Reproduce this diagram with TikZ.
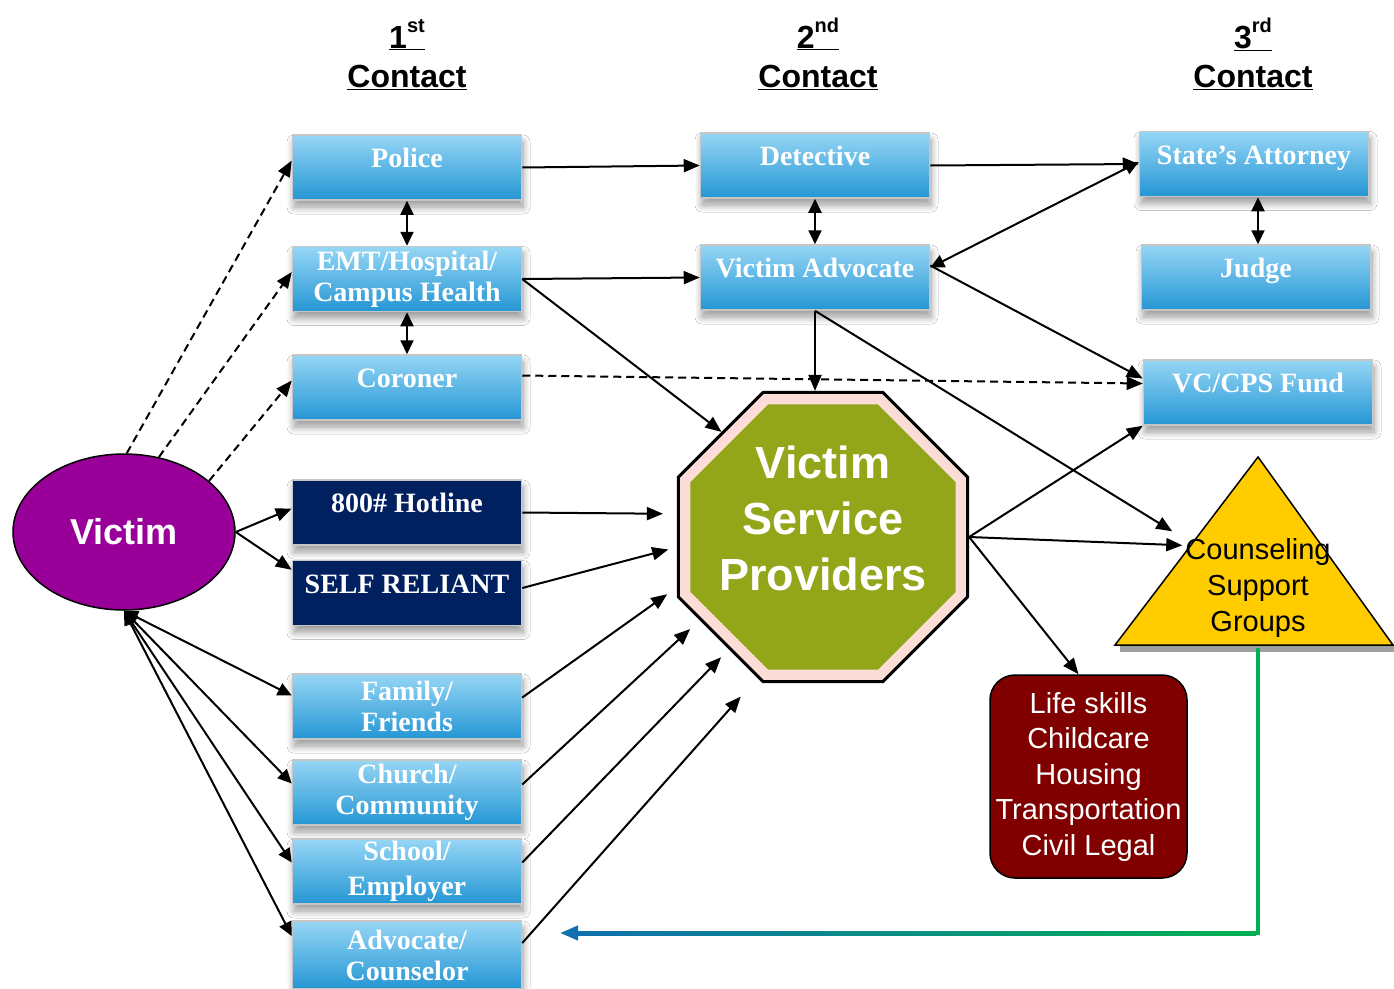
\documentclass[tikz,border=0pt]{standalone}
\usepackage{fontspec}
\setmainfont{Liberation Sans}
\newfontfamily\serifb{Liberation Serif}
\usetikzlibrary{shapes.geometric,arrows.meta,shadows.blur}

\definecolor{boxtop}{RGB}{150,214,245}
\definecolor{boxbot}{RGB}{36,150,212}
\definecolor{navy}{RGB}{0,32,96}
\definecolor{vpurple}{RGB}{153,0,153}
\definecolor{octgreen}{RGB}{147,166,26}
\definecolor{octpink}{RGB}{252,220,214}
\definecolor{lifered}{RGB}{128,0,0}
\definecolor{triyellow}{RGB}{255,204,0}
\definecolor{lgreen}{RGB}{0,176,80}
\definecolor{lblue}{RGB}{16,112,176}

\begin{document}
\begin{tikzpicture}[x=1pt,y=-1pt,
  bluebox/.style={rectangle, minimum width=229pt, minimum height=65pt, inner sep=0pt,
    top color=boxtop, bottom color=boxbot, draw=gray!45, line width=1.5pt,
    blur shadow={shadow xshift=1.5pt, shadow yshift=-7pt, shadow blur radius=7pt, shadow blur steps=10, shadow opacity=40},
    text=white, font=\serifb\bfseries\fontsize{28}{31}\selectfont, align=center},
  navybox/.style={bluebox, top color=navy, bottom color=navy},
  oneline/.style={text height=10pt, text depth=10pt},
  heading/.style={font=\bfseries\fontsize{32}{38}\selectfont, anchor=base, inner sep=0pt},
  arr/.style={line width=2pt, -{Triangle[length=16pt,width=13pt]}},
  darr/.style={line width=2pt, {Triangle[length=14pt,width=13pt]}-{Triangle[length=14pt,width=13pt]}},
  dsh/.style={arr, dash pattern=on 8pt off 5pt}
]
\fill[white] (0,0) rectangle (1394,988);
\useasboundingbox (0,0) rectangle (1394,988);

% headings
\node[heading] (h1n) at (407,48) {\underline{1\raisebox{16pt}{\fontsize{20}{20}\selectfont st}}};
\node[heading] (h1c) at (407,87) {\underline{Contact}};
\node[heading] (h2n) at (818,48) {\underline{2\raisebox{16pt}{\fontsize{20}{20}\selectfont nd}}};
\node[heading] (h2c) at (818,87) {\underline{Contact}};
\node[heading] (h3n) at (1253,48) {\underline{3\raisebox{16pt}{\fontsize{20}{20}\selectfont rd}}};
\node[heading] (h3c) at (1253,87) {\underline{Contact}};

% first contact column
\node[bluebox, oneline] (police) at (407,167.5) {Police};
\node[bluebox] (emt) at (407,279) {EMT/Hospital/\\Campus Health};
\node[bluebox, oneline] (coroner) at (407,387.5) {Coroner};
\node[navybox, oneline] (hotline) at (407,512.5) {800\# Hotline};
\node[navybox, oneline] (self) at (407,593) {SELF RELIANT};
\node[bluebox] (family) at (407,706.5) {Family/\\Friends};
\node[bluebox] (church) at (407,792.5) {Church/\\Community};
\node[bluebox, font=\serifb\bfseries\fontsize{28}{35}\selectfont] (school) at (407,871.5) {School/\\Employer};
\node[bluebox, minimum height=68pt] (advocate) at (407,955) {Advocate/\\Counselor};

% second / third contact
\node[bluebox, oneline] (det) at (815,165.5) {Detective};
\node[bluebox, oneline] (va) at (815,277.5) {Victim Advocate};
\node[bluebox, oneline] (sa) at (1254,164) {State’s Attorney};
\node[bluebox, oneline] (judge) at (1256,277.5) {Judge};
\node[bluebox, oneline] (vc) at (1258,392.5) {VC/CPS Fund};

% victim
\node[ellipse, minimum width=222pt, minimum height=156pt, inner sep=0pt, fill=vpurple,
  draw=black, line width=1.5pt, text=white, font=\bfseries\fontsize{36}{40}\selectfont] (victim) at (124,532) {Victim};

% octagon
\node[regular polygon, regular polygon sides=8, minimum size=313pt, inner sep=0pt,
  fill=octpink, draw=black, line width=3pt] (oct) at (823,537) {};
\node[regular polygon, regular polygon sides=8, minimum size=287pt, inner sep=0pt,
  fill=octgreen] (octin) at (823,537) {};
\node[font=\bfseries\fontsize{45}{56}\selectfont, text=white, align=center, inner sep=0pt] (vsp) at (823,518) {Victim\\Service\\Providers};

% triangle
\fill[gray!75] (1120,645) rectangle (1394,652);
\draw[fill=triyellow, line width=1.5pt, line join=miter] (1258,457) -- (1393,645) -- (1115,645) -- cycle;
\node[font=\fontsize{29}{36}\selectfont, align=center, inner sep=1pt] (csg) at (1258,588) {Counseling\\Support\\Groups};
\coordinate (tribase) at (1258,648);

% life skills
\node[rectangle, rounded corners=25pt, minimum width=197pt, minimum height=203pt, inner sep=0pt,
  fill=lifered, draw=black, line width=1.5pt, text=white, align=center,
  font=\fontsize{29}{35.5}\selectfont] (life) at (1088.5,776.5) {Life skills\\Childcare\\Housing\\Transportation\\Civil Legal};

% green/blue return connector
\coordinate (advend) at (560,933);
\draw[line width=4pt, lgreen, -{Triangle[length=18pt,width=14pt,color=lblue]}] (tribase) |- (advend);
\shade[left color=lblue, right color=lgreen] (574,931) rectangle (1256,935);

% connectors from victim
\draw[dsh] (victim.88) -- ([yshift=7pt]police.west);
\draw[dsh] (victim.65) -- ([yshift=7pt]emt.west);
\draw[dsh] (victim.31) -- ([yshift=7pt]coroner.west);
\draw[arr] (victim.east) -- ([yshift=4pt]hotline.west);
\draw[arr] (victim.east) -- ([yshift=-10pt]self.north west);
\draw[darr] (victim.south) -- ([yshift=11pt]family.west);
\draw[darr] (victim.south) -- ([yshift=9pt]church.west);
\draw[darr] (victim.south) -- ([yshift=9pt]school.west);
\draw[darr] (victim.south) -- ([yshift=19pt]advocate.west);

% first column links
\draw[darr] (police.south) -- (emt.north);
\draw[darr] (emt.south) -- (coroner.north);
\draw[arr] (police.east) -- (det.west);
\draw[arr] (emt.east) -- (va.west);
\draw[arr] (emt.east) -- (oct.134);
\draw[dsh] ([yshift=12pt]coroner.east) -- ([yshift=9pt]vc.west);

% second column links
\draw[darr] (det.south) -- (va.north);
\draw[arr] (det.east) -- (sa.west);
\draw[darr] ([yshift=10pt]va.east) -- ([yshift=2pt]sa.west);
\draw[arr] ([yshift=12pt]va.east) -- ([yshift=14pt]vc.west);
\draw[darr] ([xshift=4pt]sa.south) -- ([xshift=4pt]sa.south |- judge.north);
\draw[arr] (va.south) -- (va.south |- oct.north);
\draw[arr] (va.south) -- ([xshift=-12pt,yshift=6pt]csg.north west);

% into the octagon
\draw[arr, shorten >=14pt] (hotline.east) -- (oct.171);
\draw[arr, shorten >=9pt] ([yshift=5pt]self.east) -- (oct.184);
\draw[arr, shorten >=12pt] ([yshift=9pt]family.east) -- (oct.199);
\draw[arr, shorten >=13pt] ([yshift=8pt]church.east) -- (oct.214);
\draw[arr, shorten >=11pt] ([yshift=9pt]school.east) -- (oct.230);
\draw[arr, shorten >=25pt] ([yshift=12pt]advocate.east) -- (oct.245);

% out of the octagon
\draw[arr] (oct.east) -- (vc.south west);
\draw[arr] (oct.east) -- ([xshift=-2pt,yshift=-8pt]csg.north west);
\draw[arr] (oct.east) -- ([xshift=-10pt]life.north);
\end{tikzpicture}
\end{document}
